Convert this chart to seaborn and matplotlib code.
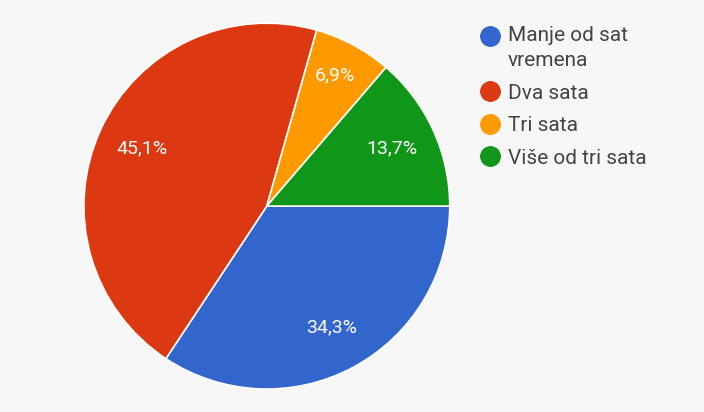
import matplotlib
matplotlib.use("Agg")
import matplotlib.pyplot as plt
from matplotlib.lines import Line2D
import numpy as np
import seaborn as sns

# survey answers (Google Forms style pie)
labels = ["Manje od sat\nvremena", "Dva sata", "Tri sata", "Više od tri sata"]
values = [34.3, 45.1, 6.9, 13.7]
colors = ["#3366cc", "#dc3912", "#ff9900", "#109618"]

sns.set_theme(style="white")
plt.rcParams["font.family"] = ["Roboto", "DejaVu Sans"]

bg = "#f7f7f7"
fig = plt.figure(figsize=(7.04, 4.12), dpi=100, facecolor=bg)
ax = fig.add_axes([0.119, 0.0558, 0.52, 0.888])
ax.set_facecolor(bg)

palette = sns.color_palette(colors)
wedges, texts, autotexts = ax.pie(
    values,
    colors=palette,
    startangle=0,
    counterclock=False,
    autopct=lambda p: f"{p:.1f}%".replace(".", ","),
    pctdistance=0.75,
    wedgeprops=dict(edgecolor="white", linewidth=1.2),
    textprops=dict(color="white", fontsize=14),
)
# small slice label sits a bit further out
autotexts[2].set_position((autotexts[2].get_position()[0] * 1.05,
                           autotexts[2].get_position()[1] * 1.08))
ax.set_aspect("equal")
ax.set_xlim(-1, 1)
ax.set_ylim(-1, 1)

handles = [Line2D([0], [0], marker="o", linestyle="", markersize=14,
                  markerfacecolor=c, markeredgecolor=c) for c in colors]
leg = fig.legend(handles, labels, loc="upper left",
                 bbox_to_anchor=(0.655, 0.982), frameon=False,
                 fontsize=15, handlelength=1.0, handletextpad=0.35,
                 labelspacing=0.65, labelcolor="#444444")
for t in leg.get_texts():
    t.set_linespacing(1.4)
# put the first marker next to the first line of its two-line label
h0 = leg.legend_handles[0]
h0.set_ydata(np.asarray(h0.get_ydata()) + 9.0)

fig.savefig("out.png", dpi=100, facecolor=bg)
